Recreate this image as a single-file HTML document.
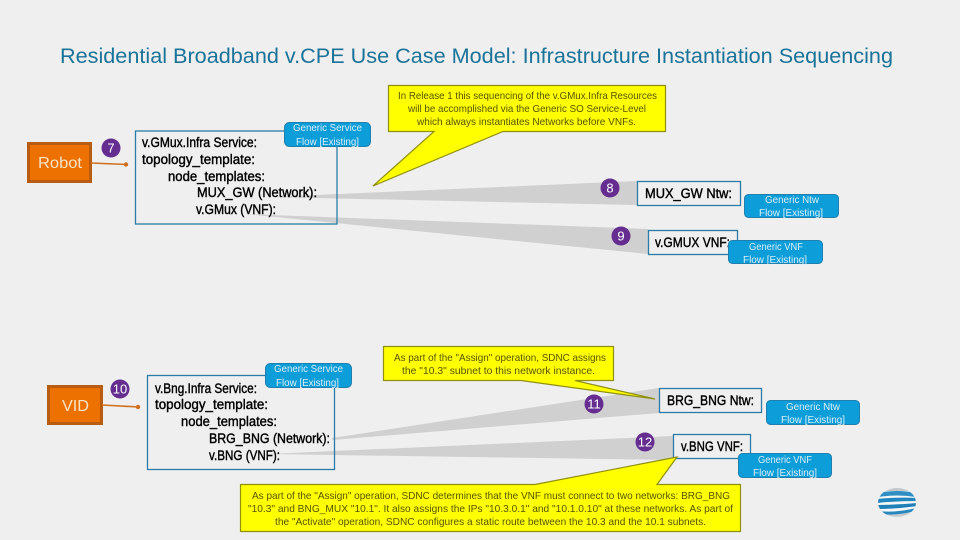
<!DOCTYPE html>
<html><head><meta charset="utf-8"><style>
html,body{margin:0;padding:0;background:#efefef}
svg{display:block}
text{font-family:"Liberation Sans",sans-serif}
.n{font-size:13.5px;fill:#000;stroke:#000;stroke-width:.4}
.b{font-size:10.5px;fill:#d9eef8}
.y{font-size:10.5px;fill:#55550a}
.c{font-size:13px;fill:#fff;text-anchor:middle}
.box{fill:#efefef;stroke:#2a7ba6;stroke-width:1.3}
.btn{fill:#0d9dd9;stroke:#1f7fae;stroke-width:1}
.cal{fill:#ffff00;stroke:#8f8f10;stroke-width:1.2}
</style></head><body>
<svg width="960" height="540" viewBox="0 0 960 540" xmlns="http://www.w3.org/2000/svg">
<rect width="960" height="540" fill="#efefef"/>
<text x="60" y="63" font-size="21" fill="#1a7399" textLength="833" lengthAdjust="spacingAndGlyphs">Residential Broadband v.CPE Use Case Model: Infrastructure Instantiation Sequencing</text>

<!-- wedges -->
<polygon points="270,197 637,181 637,205" fill="#d0d0d0"/>
<polygon points="245,214 648,229 648,254" fill="#d0d0d0"/>
<polygon points="332,438 659,388 659,413 332,440" fill="#d0d0d0"/>
<polygon points="268,454 673,436 673,460" fill="#d0d0d0"/>

<!-- Robot -->
<rect x="28.500" y="143.500" width="62" height="38" fill="#ed7100" stroke="#b85c12" stroke-width="3"/>
<text x="38" y="168" font-size="16" fill="#f6e3c8" textLength="44" lengthAdjust="spacingAndGlyphs">Robot</text>
<line x1="91" y1="163" x2="127" y2="164.500" stroke="#d0701f" stroke-width="1.600"/>
<circle cx="126" cy="164.500" r="2.200" fill="#d0701f"/>
<circle cx="111" cy="148" r="9.500" fill="#662d91"/>
<text class="c" x="111" y="152.500">7</text>

<!-- vGMux service -->
<rect x="135.500" y="131" width="201.500" height="93" fill="none" stroke="#2a7ba6" stroke-width="1.300"/>
<text class="n" x="142" y="147" textLength="115" lengthAdjust="spacingAndGlyphs">v.GMux.Infra Service:</text>
<text class="n" x="142" y="164" textLength="113" lengthAdjust="spacingAndGlyphs">topology_template:</text>
<text class="n" x="168" y="181" textLength="97" lengthAdjust="spacingAndGlyphs">node_templates:</text>
<text class="n" x="197" y="197" textLength="120" lengthAdjust="spacingAndGlyphs">MUX_GW (Network):</text>
<text class="n" x="196" y="214" textLength="80" lengthAdjust="spacingAndGlyphs">v.GMux (VNF):</text>
<rect class="btn" x="284.500" y="122.500" width="86" height="24" rx="5"/>
<text class="b" x="293" y="131" textLength="69" lengthAdjust="spacingAndGlyphs">Generic Service</text>
<text class="b" x="296" y="145" textLength="63" lengthAdjust="spacingAndGlyphs">Flow [Existing]</text>

<!-- callout 1 -->
<polygon class="cal" points="388.500,85.500 665.500,85.500 665.500,131.500 503,131.500 373,186 434,131.500 388.500,131.500"/>
<text class="y" x="398" y="99" textLength="259" lengthAdjust="spacingAndGlyphs">In Release 1 this sequencing of the v.GMux.Infra Resources</text>
<text class="y" x="408" y="112" textLength="238" lengthAdjust="spacingAndGlyphs">will be accomplished via the Generic SO Service-Level</text>
<text class="y" x="417" y="125" textLength="219" lengthAdjust="spacingAndGlyphs">which always instantiates Networks before VNFs.</text>

<!-- 8 -->
<circle cx="610" cy="188" r="9.500" fill="#662d91"/>
<text class="c" x="610" y="192.500">8</text>
<rect class="box" x="637.500" y="181.500" width="103" height="24"/>
<text class="n" x="645" y="198" textLength="87" lengthAdjust="spacingAndGlyphs">MUX_GW Ntw:</text>
<rect class="btn" x="744.500" y="194.500" width="94" height="23" rx="4"/>
<text class="b" x="765" y="203" textLength="54" lengthAdjust="spacingAndGlyphs">Generic Ntw</text>
<text class="b" x="759" y="216" textLength="64" lengthAdjust="spacingAndGlyphs">Flow [Existing]</text>

<!-- 9 -->
<circle cx="621" cy="236" r="9.500" fill="#662d91"/>
<text class="c" x="621" y="240.500">9</text>
<rect class="box" x="648.500" y="230.500" width="89" height="24"/>
<text class="n" x="655" y="247" textLength="75" lengthAdjust="spacingAndGlyphs">v.GMUX VNF:</text>
<rect class="btn" x="728.500" y="240.500" width="94" height="23" rx="4"/>
<text class="b" x="749" y="250" textLength="54" lengthAdjust="spacingAndGlyphs">Generic VNF</text>
<text class="b" x="743" y="263" textLength="64" lengthAdjust="spacingAndGlyphs">Flow [Existing]</text>

<!-- VID -->
<rect x="48.500" y="386.500" width="53" height="37" fill="#ed7100" stroke="#b85c12" stroke-width="3"/>
<text x="62" y="411" font-size="16" fill="#f6e3c8" textLength="27" lengthAdjust="spacingAndGlyphs">VID</text>
<line x1="102" y1="405" x2="139" y2="407" stroke="#d0701f" stroke-width="1.600"/>
<circle cx="138" cy="407" r="2.200" fill="#d0701f"/>
<circle cx="120" cy="389" r="9.500" fill="#662d91"/>
<text class="c" x="120" y="393.500">10</text>

<!-- vBng service -->
<rect x="147.500" y="375.500" width="187" height="94" fill="none" stroke="#2a7ba6" stroke-width="1.300"/>
<text class="n" x="155" y="393" textLength="102" lengthAdjust="spacingAndGlyphs">v.Bng.Infra Service:</text>
<text class="n" x="155" y="409" textLength="113" lengthAdjust="spacingAndGlyphs">topology_template:</text>
<text class="n" x="181" y="426" textLength="96" lengthAdjust="spacingAndGlyphs">node_templates:</text>
<text class="n" x="209" y="443" textLength="121" lengthAdjust="spacingAndGlyphs">BRG_BNG (Network):</text>
<text class="n" x="209" y="460" textLength="71" lengthAdjust="spacingAndGlyphs">v.BNG (VNF):</text>
<rect class="btn" x="265.500" y="363.500" width="86" height="24" rx="5"/>
<text class="b" x="274" y="372" textLength="69" lengthAdjust="spacingAndGlyphs">Generic Service</text>
<text class="b" x="276" y="386" textLength="63" lengthAdjust="spacingAndGlyphs">Flow [Existing]</text>

<!-- callout 2 -->
<polygon class="cal" points="383.500,346.500 613.500,346.500 613.500,380.500 575,380.500 655,399 521,380.500 383.500,380.500"/>
<text class="y" x="394" y="361" textLength="212" lengthAdjust="spacingAndGlyphs">As part of the "Assign" operation, SDNC assigns</text>
<text class="y" x="402" y="374" textLength="193" lengthAdjust="spacingAndGlyphs">the "10.3" subnet to this network instance.</text>

<!-- 11 -->
<circle cx="594" cy="404" r="9.500" fill="#662d91"/>
<text class="c" x="594" y="408.500">11</text>
<rect class="box" x="659.500" y="388.500" width="102" height="24"/>
<text class="n" x="667" y="405" textLength="87" lengthAdjust="spacingAndGlyphs">BRG_BNG Ntw:</text>
<rect class="btn" x="766.500" y="400.500" width="93" height="24" rx="4"/>
<text class="b" x="786" y="410" textLength="54" lengthAdjust="spacingAndGlyphs">Generic Ntw</text>
<text class="b" x="781" y="423" textLength="64" lengthAdjust="spacingAndGlyphs">Flow [Existing]</text>

<!-- 12 -->
<circle cx="645" cy="442" r="9.500" fill="#662d91"/>
<text class="c" x="645" y="446.500">12</text>
<rect class="box" x="673.500" y="434.500" width="77" height="24"/>
<text class="n" x="681" y="451" textLength="62" lengthAdjust="spacingAndGlyphs">v.BNG VNF:</text>
<rect class="btn" x="738.500" y="453.500" width="93" height="24" rx="4"/>
<text class="b" x="758" y="463" textLength="54" lengthAdjust="spacingAndGlyphs">Generic VNF</text>
<text class="b" x="753" y="476" textLength="64" lengthAdjust="spacingAndGlyphs">Flow [Existing]</text>

<!-- callout 3 -->
<polygon class="cal" points="240.500,484.500 535,484.500 677,457 657,484.500 740.500,484.500 740.500,531.500 240.500,531.500"/>
<text class="y" x="252" y="499" textLength="478" lengthAdjust="spacingAndGlyphs">As part of the "Assign" operation, SDNC determines that the VNF must connect to two networks: BRG_BNG</text>
<text class="y" x="248" y="512" textLength="485" lengthAdjust="spacingAndGlyphs">"10.3" and BNG_MUX "10.1". It also assigns the IPs "10.3.0.1" and "10.1.0.10" at these networks. As part of</text>
<text class="y" x="275" y="525" textLength="431" lengthAdjust="spacingAndGlyphs">the "Activate" operation, SDNC configures a static route between the 10.3 and the 10.1 subnets.</text>

<!-- globe -->
<clipPath id="g"><ellipse cx="897" cy="502.500" rx="19" ry="14.500"/></clipPath>
<g clip-path="url(#g)">
<rect x="876" y="486" width="42" height="33" fill="#f4f6f7"/>
<rect x="876" y="486" width="42" height="5" fill="#c4c8ca"/>
<rect x="876" y="513" width="42" height="5" fill="#c9cdcf"/>
<path d="M878,493 Q897,489 916,493 L916,497 Q897,494 878,497Z" fill="#2f8fc4"/>
<path d="M876,499 Q897,497 918,498 L918,501 Q897,501 876,503Z" fill="#1f86c0"/>
<path d="M876,505 Q897,505 918,503 L918,506 Q897,509 876,509Z" fill="#1f7fb8"/>
<path d="M878,511 Q897,513 916,508 L916,511 Q897,516 880,514Z" fill="#2a88bd"/>
</g>
</svg>
</body></html>
